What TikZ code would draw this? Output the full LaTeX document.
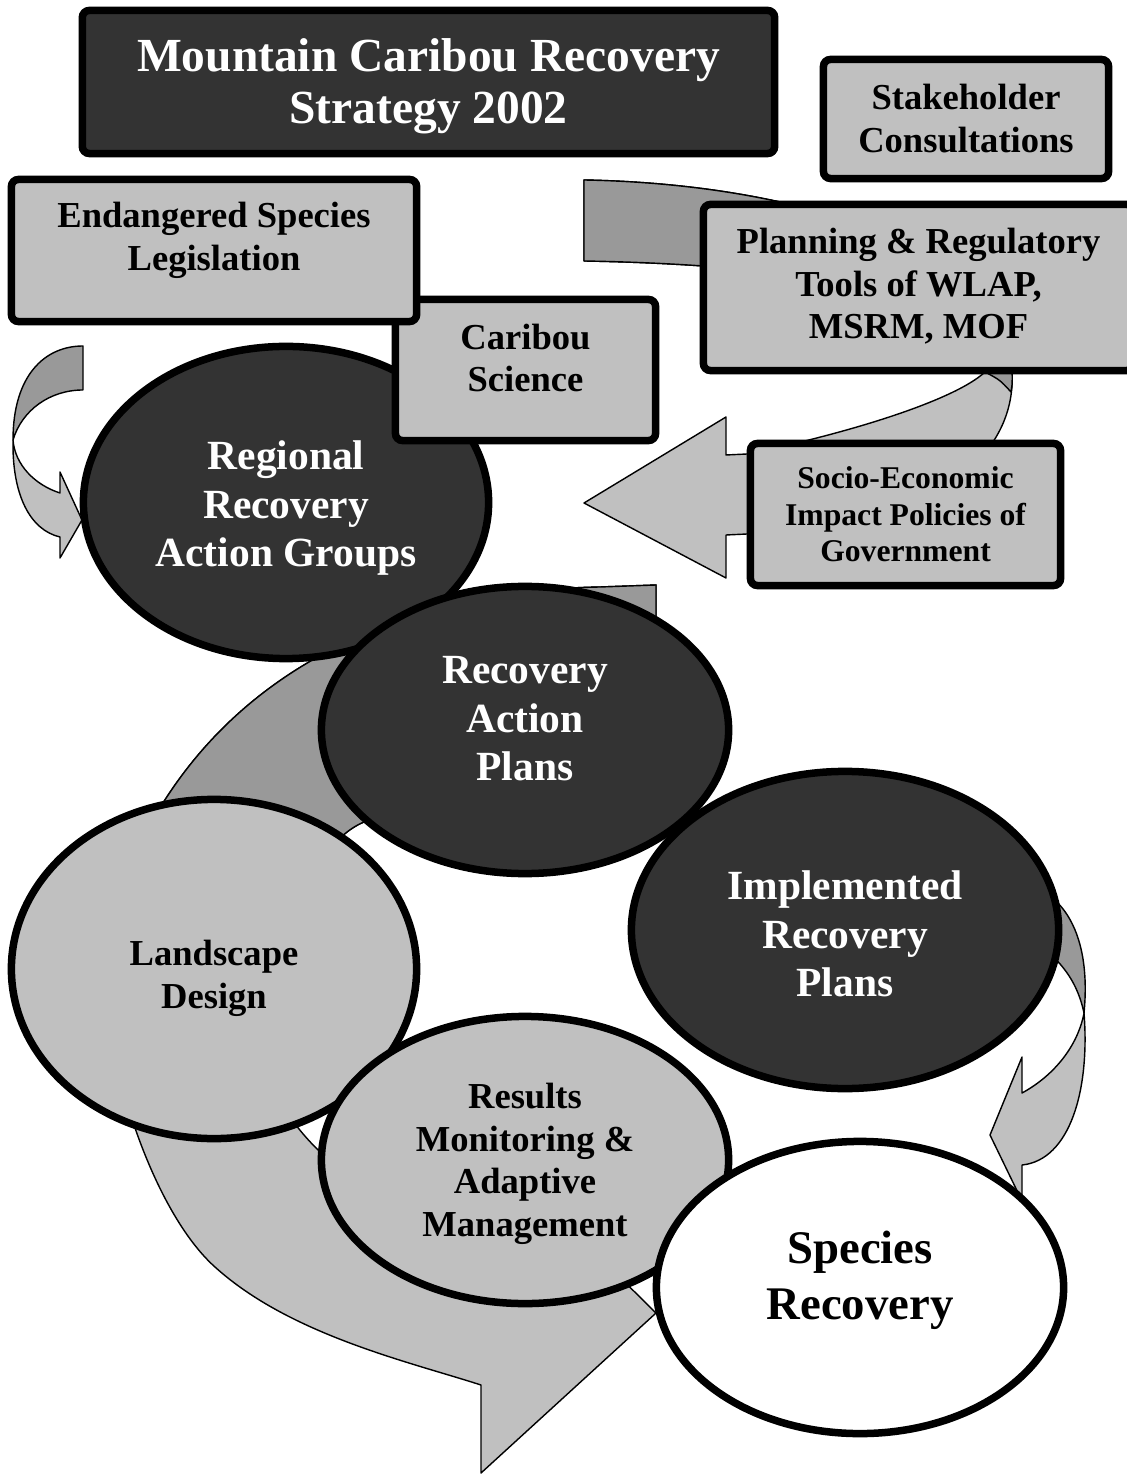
\documentclass[tikz,border=0pt]{standalone}
\usepackage{fontspec}
\setmainfont{Liberation Serif}
\usetikzlibrary{shapes.geometric}

\definecolor{darkgrey}{HTML}{333333}
\definecolor{midgrey}{HTML}{999999}
\definecolor{lightgrey}{HTML}{C0C0C0}

\newcommand{\boxlines}[2][0pt]{\raisebox{#1}[\height][\depth]{\begin{tabular}{@{}c@{}}#2\end{tabular}}}

\tikzset{
  panel/.style={rectangle, draw, line width=0.075cm, rounded corners=2pt, fill=lightgrey, inner sep=0pt},
  blob/.style={ellipse, draw, line width=0.075cm, fill=lightgrey, inner sep=1pt},
  dark/.style={fill=darkgrey, text=white},
  ribbon/.style={draw, line width=0.4pt, line join=round, fill=lightgrey},
  ribbonback/.style={ribbon, fill=midgrey},
  bigtxt/.style={font=\bfseries\fontsize{13.5}{15}\selectfont},
  midtxt/.style={font=\bfseries\fontsize{11.8}{13.8}\selectfont},
  smalltxt/.style={font=\bfseries\fontsize{10.4}{12.2}\selectfont},
  tinytxt/.style={font=\bfseries\fontsize{9}{10.5}\selectfont},
}

\begin{document}
\begin{tikzpicture}[x=0.01cm, y=-0.01cm]
\useasboundingbox (0,0) rectangle (1126,1474);

% curved arrows, front face first, back face laid over it
\filldraw[ribbon] (13,440) .. controls (12,495) and (30,530) .. (60,537) -- (60,558) -- (82,520) -- (60,472) -- (60,493)
  .. controls (35,485) and (15,465) .. (13,440) -- cycle;
\filldraw[ribbonback] (83,346) .. controls (45,346) and (13,375) .. (13,440) .. controls (22,410) and (50,390) .. (83,390) -- cycle;

\filldraw[ribbon] (584,180) .. controls (800,184) and (1020,250) .. (1012,385) .. controls (1008,460) and (930,530) .. (747,534)
  -- (726,535) -- (726,578) -- (584,503) -- (726,417) -- (726,455) -- (747,454)
  .. controls (850,433) and (955,400) .. (985,372) .. controls (1010,300) and (820,265) .. (584,261) -- cycle;
\filldraw[ribbonback] (584,180) .. controls (800,184) and (1020,250) .. (1012,385) -- (1011,392) .. controls (1000,380) .. (985,372)
  .. controls (1010,300) and (820,265) .. (584,261) -- cycle;

\filldraw[ribbon] (656,585) -- (600,587) .. controls (420,590) and (190,660) .. (110,920)
  .. controls (86,998) and (140,1200) .. (215,1267) .. controls (290,1335) and (410,1362) .. (481,1385)
  -- (481,1473) -- (656,1313) -- (481,1140) -- (481,1220)
  .. controls (380,1215) and (290,1150) .. (262,1060) .. controls (250,1000) and (300,848) .. (364,822)
  .. controls (450,787) and (560,752) .. (656,750) -- cycle;
\filldraw[ribbonback] (656,585) -- (600,587) .. controls (420,590) and (190,660) .. (110,920) -- (262,1060)
  .. controls (250,1000) and (300,848) .. (364,822) .. controls (450,787) and (560,752) .. (656,750) -- cycle;

\filldraw[ribbonback] (1000,880) .. controls (1060,880) and (1092,930) .. (1084,1013)
  .. controls (1078,985) and (1065,965) .. (1040,945) -- cycle;
\filldraw[ribbon] (1084,1013) .. controls (1090,1090) and (1070,1160) .. (1022,1165) -- (1022,1201) -- (990,1135)
  -- (1022,1057) -- (1022,1093) .. controls (1055,1075) and (1078,1045) .. (1084,1013) -- cycle;

% boxes and ovals
\node[blob, dark, midtxt, minimum width=4.05cm, minimum height=3.12cm] (regional) at (286,502.5)
  {\boxlines[-1.7pt]{Regional\\Recovery\\Action Groups}};
\node[panel, smalltxt, minimum width=2.6cm, minimum height=1.41cm] (science) at (525.5,370)
  {\boxlines[2.3pt]{Caribou\\Science}};
\node[panel, smalltxt, minimum width=4.05cm, minimum height=1.42cm] (legis) at (214,250.5)
  {\boxlines[2.8pt]{Endangered Species\\Legislation}};
\node[panel, dark, bigtxt, minimum width=6.92cm, minimum height=1.43cm] (title) at (428.5,82)
  {\boxlines[-1.4pt]{Mountain Caribou Recovery\\Strategy 2002}};
\node[panel, smalltxt, minimum width=2.85cm, minimum height=1.19cm] (stake) at (966,119)
  {\boxlines[-1.1pt]{Stakeholder\\Consultations}};
\node[panel, smalltxt, minimum width=4.3cm, minimum height=1.66cm] (planning) at (918.5,287.5)
  {\boxlines{Planning \& Regulatory\\Tools of WLAP,\\MSRM, MOF}};
\node[panel, tinytxt, minimum width=3.1cm, minimum height=1.42cm] (socio) at (905.5,514.5)
  {\boxlines[-0.9pt]{Socio-Economic\\Impact Policies of\\Government}};

\node[blob, dark, midtxt, minimum width=4.07cm, minimum height=2.87cm] (plans) at (525,730)
  {\boxlines[2.1pt]{Recovery\\Action\\Plans}};
\node[blob, dark, midtxt, minimum width=4.27cm, minimum height=3.17cm] (implemented) at (845,930)
  {\boxlines[-2.4pt]{Implemented\\Recovery\\Plans}};
\node[blob, smalltxt, minimum width=4.05cm, minimum height=3.39cm] (landscape) at (214,969)
  {\boxlines[-2.8pt]{Landscape\\Design}};
\node[blob, smalltxt, minimum width=4.07cm, minimum height=2.87cm] (results) at (525,1160)
  {\boxlines[-1.1pt]{Results\\Monitoring \&\\Adaptive\\Management}};
\node[blob, fill=white, font=\bfseries\fontsize{13.3}{15.9}\selectfont, minimum width=4.07cm, minimum height=2.92cm] (species) at (860,1287.5)
  {\boxlines[2.1pt]{Species\\Recovery}};
\end{tikzpicture}
\end{document}
